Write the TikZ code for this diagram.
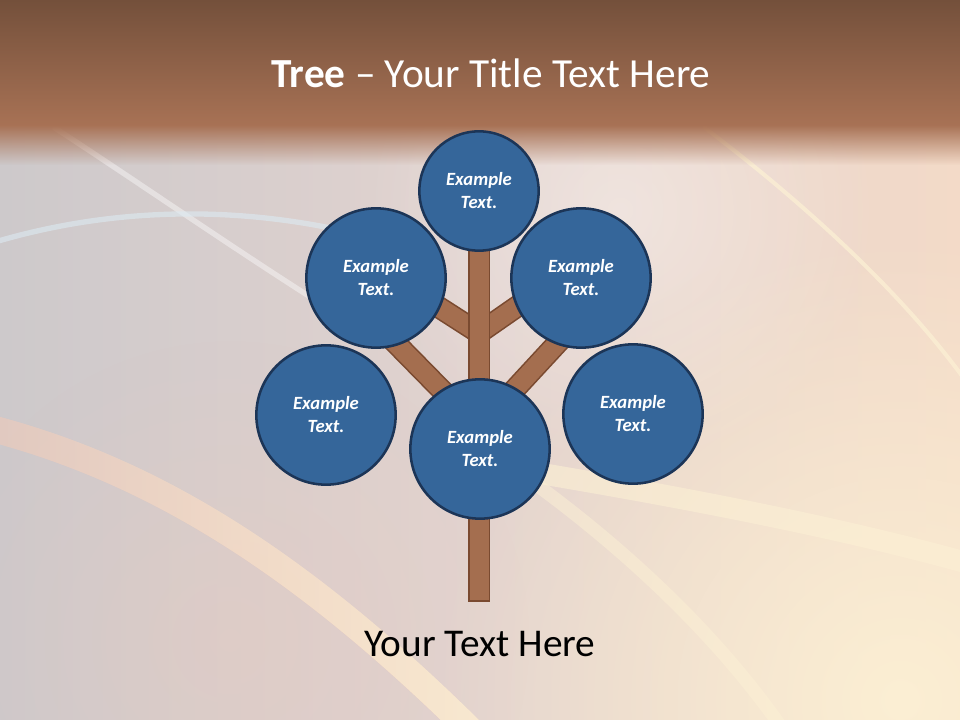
\documentclass[tikz,border=0pt]{standalone}
\usepackage{fontspec}
\setmainfont{Carlito}
\usetikzlibrary{fadings,calc}
\definecolor{circfill}{HTML}{35669A}
\definecolor{circline}{HTML}{1C3557}
\definecolor{barfill}{HTML}{A46E4F}
\definecolor{barline}{HTML}{7A4A30}
\definecolor{bandtop}{HTML}{74503B}
\definecolor{bandbot}{HTML}{A87255}
\definecolor{bgleft}{HTML}{CDC9CB}
\definecolor{bgmid}{HTML}{E2D3CF}
\definecolor{bgright}{HTML}{F3DAC8}
\definecolor{cream}{HTML}{FCF0D4}
\definecolor{salmon}{HTML}{F4C8B6}
\definecolor{paleblue}{HTML}{DCEAF2}
\tikzfading[name=fadedown, top color=transparent!0, bottom color=transparent!100]
\tikzfading[name=fadright, left color=transparent!100, right color=transparent!0]
\tikzfading[name=glowfade, inner color=transparent!0, outer color=transparent!100]
\begin{document}
\begin{tikzpicture}[x=0.75pt,y=-0.75pt,
  leaf/.style={circle, draw=circline, line width=1.9pt, fill=circfill, text=white,
     font=\fontsize{14}{17.25}\selectfont\bfseries\itshape, align=center,
     minimum size=104.5pt, inner sep=0pt},
  smallleaf/.style={leaf, minimum size=89.5pt},
  branch/.style={draw=barline, line width=1.2pt, double=barfill, double distance=14.2pt},
  trunkbar/.style={draw=barline, line width=1.2pt, fill=barfill},
  swoosh/.style={line cap=round}
]
\useasboundingbox (0,0) rectangle (960,720);
% ---------- background ----------
\shade[left color=bgleft, right color=bgright, middle color=bgmid] (0,0) rectangle (960,720);
\fill[white, opacity=0.35, path fading=glowfade] (620,210) circle[radius=260];
\fill[salmon, opacity=0.25, path fading=glowfade] (230,640) circle[radius=300];
\fill[cream, opacity=0.95, path fading=glowfade] (900,700) circle[radius=470];
% swooshes
\draw[swoosh, white, opacity=0.4, line width=4pt] (55,128) .. controls (150,190) and (250,260) .. (350,322);
\draw[swoosh, paleblue, opacity=0.6, line width=4pt] (-5,242) .. controls (120,205) and (270,200) .. (430,255);
\draw[swoosh, salmon, opacity=0.5, line width=20pt] (-10,428) .. controls (150,470) and (300,560) .. (480,740);
\draw[swoosh, cream, opacity=0.8, line width=20pt, path fading=fadright] (-10,428) .. controls (150,470) and (300,560) .. (480,740);
\draw[swoosh, cream, opacity=0.75, line width=3pt] (705,128) .. controls (800,200) and (900,290) .. (965,380);
\draw[swoosh, cream, opacity=0.6, line width=16pt] (520,470) .. controls (700,500) and (850,530) .. (975,565);
\draw[swoosh, cream, opacity=0.5, line width=10pt] (530,480) .. controls (640,560) and (730,650) .. (790,740);
% top band
\shade[top color=bandtop, bottom color=bandbot] (0,0) rectangle (960,126);
\fill[bandbot, path fading=fadedown] (0,125) rectangle (960,165);
% ---------- title ----------
\node[anchor=base, text=white, font=\fontsize{31}{37}\selectfont, inner sep=0pt] (title) at (491,88)
  {\textbf{Tree} – Your Title Text Here};
% ---------- tree ----------
\coordinate (jup) at (479,333);
\coordinate (jlow) at (479,428);
\coordinate (bul) at (398,281);
\coordinate (bur) at (561,276);
\coordinate (bll) at (368,315);
\coordinate (blr) at (588,310);
\coordinate (trunktop) at (479.3,240);
\coordinate (trunkbot) at (479.3,601);
\draw[branch] (jup) -- (bul);
\draw[branch] (jup) -- (bur);
\draw[branch] (jlow) -- (bll);
\draw[branch] (jlow) -- (blr);
\draw[trunkbar] ($(trunktop)+(-10.3,0)$) rectangle ($(trunkbot)+(10.3,0)$);
\node[smallleaf] (ctop) at (479,191) {Example\\Text.};
\node[leaf] (cul) at (376,278) {Example\\Text.};
\node[leaf] (cur) at (581,278) {Example\\Text.};
\node[leaf] (cll) at (326,415) {Example\\Text.};
\node[leaf] (clr) at (633,414) {Example\\Text.};
\node[leaf] (cmid) at (480,449) {Example\\Text.};
% ---------- caption ----------
\node[anchor=base, text=black, font=\fontsize{29.5}{35}\selectfont, inner sep=0pt] (caption) at (480,656)
  {Your Text Here};
\end{tikzpicture}
\end{document}
